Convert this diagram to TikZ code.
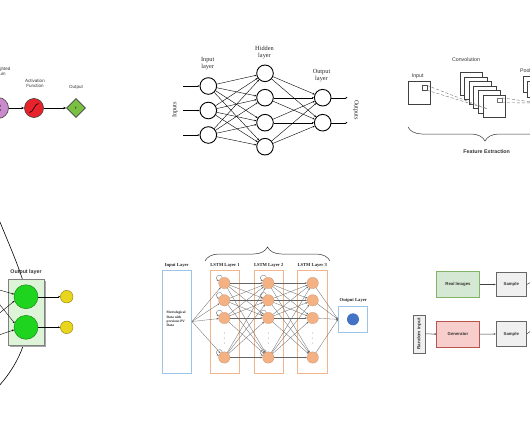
\documentclass[tikz,border=0pt]{standalone}
\usepackage{fontspec}
\setmainfont{Liberation Serif}
\setsansfont{Liberation Sans}
\usetikzlibrary{arrows.meta,decorations.pathreplacing,shapes.geometric,calc}
\definecolor{purpA}{HTML}{C98BCB}
\definecolor{redA}{HTML}{E8212B}
\definecolor{greenA}{HTML}{7AC143}
\definecolor{gcirc}{HTML}{1FD41F}
\definecolor{gcircd}{HTML}{137A13}
\definecolor{grect}{HTML}{DDF4D8}
\definecolor{yel}{HTML}{E8D51C}
\definecolor{yeld}{HTML}{8C7A00}
\definecolor{lorange}{HTML}{F4B183}
\definecolor{lorangeb}{HTML}{F2B48A}
\definecolor{lblue}{HTML}{9DC3E6}
\definecolor{dblue}{HTML}{4472C4}
\definecolor{dgf}{HTML}{D5E8D4}
\definecolor{dgd}{HTML}{82B366}
\definecolor{drf}{HTML}{F8CECC}
\definecolor{drd}{HTML}{B85450}
\definecolor{dxf}{HTML}{F0F0F0}
\definecolor{dxd}{HTML}{666666}
\begin{document}
\begin{tikzpicture}[x=1pt,y=-1pt,
  arr/.style={-{Stealth[length=3pt,width=2.4pt]}},
  sarr/.style={-{Stealth[length=2pt,width=1.7pt]}},
  nn/.style={circle,draw=black,line width=0.9pt,fill=white,minimum size=16.6pt,inner sep=0pt},
  serlab/.style={font=\fontsize{6.3}{7}\selectfont,align=center,text=black!85},
  p1lab/.style={font=\sffamily\fontsize{4.5}{5}\selectfont,align=center,text=black!80},
  p3lab/.style={font=\sffamily\fontsize{5.3}{6}\selectfont,text=black!80},
  lc/.style={circle,fill=lorange,draw=lorange!80!black,line width=0.2pt,minimum size=11.4pt,inner sep=0pt},
  lline/.style={draw=black!60,line width=0.3pt,sarr},
  lstmbox/.style={draw=lorangeb,line width=0.6pt,minimum width=29.5pt,minimum height=103pt,inner sep=0pt},
  lstmlab/.style={font=\bfseries\fontsize{4.6}{5}\selectfont,text=black!85},
  dio/.style={line width=0.5pt,inner sep=0pt,font=\sffamily\bfseries\fontsize{4.3}{5}\selectfont,text=black!80},
  sq/.style={draw=black!75,line width=0.5pt,fill=white}
]
\clip (0,0) rectangle (530,442);
\fill[white] (0,0) rectangle (530,442);

% ---------- Panel 1: perceptron ----------
\node[circle,draw=black!75,line width=0.6pt,fill=purpA,minimum size=21pt,inner sep=0pt] (sum) at (-2,108) {\fontsize{9}{9}\selectfont$\Sigma$};
\node[circle,draw=black!75,line width=0.6pt,fill=redA,minimum size=19pt,inner sep=0pt] (act) at (34,108) {};
\draw[line width=0.6pt] (29.5,112.5) .. controls (33.5,112.5) and (34.5,103.5) .. (38.5,103.5);
\node[diamond,draw=black!75,line width=0.6pt,fill=greenA,minimum size=19pt,inner sep=0pt] (yout) at (76,108) {\fontsize{3.5}{4}\selectfont Y};
\draw[arr,line width=0.5pt] (sum) -- (act);
\draw[arr,line width=0.5pt] (act) -- (yout);
\node[p1lab] (lsum) at (1,71) {Weighted\\Sum};
\node[p1lab] (lact) at (35,83) {Activation\\Function};
\node[p1lab] (lout) at (76,87.5) {Output};

% ---------- Panel 2: MLP ----------
\foreach \i/\y in {1/86,2/110.5,3/135} {
  \node[nn] (i\i) at (208.3,\y) {};
  \coordinate (in\i) at (183,\y);
}
\foreach \i/\y in {1/73.3,2/97.7,3/122.7,4/146.7} \node[nn] (h\i) at (265,\y) {};
\foreach \i/\y in {1/97.7,2/122.7} {
  \node[nn] (o\i) at (322.7,\y) {};
  \coordinate (out\i) at (347.5,\y);
}
\foreach \a in {1,2,3} \foreach \b in {1,...,4} \draw[sarr,line width=0.4pt] (i\a) -- (h\b);
\foreach \a in {1,...,4} \foreach \b in {1,2} \draw[sarr,line width=0.4pt] (h\a) -- (o\b);
\foreach \i in {1,2,3} \draw[sarr,line width=0.4pt] (in\i) -- (i\i);
\foreach \i in {1,2} \draw[sarr,line width=0.4pt] (o\i) -- (out\i);
\node[serlab] (li) at (207.7,64) {Input\\layer};
\node[serlab] (lh) at (264.5,52) {Hidden\\layer};
\node[serlab] (lo) at (321.5,76) {Output\\layer};
\node[serlab,rotate=90] (lin) at (175,110) {Inputs};
\node[serlab,rotate=-90] (lou) at (356,110) {Outputs};

% ---------- Panel 3: CNN ----------
\draw[sq] (408.3,81.7) rectangle (430.7,104);
\node[draw=black!70,line width=0.4pt,minimum size=4.4pt,inner sep=0pt] (isq) at (424.5,87.8) {};
\foreach \k in {0,...,5} \draw[sq] ({460+4.55*\k},{72.7+4.5*\k}) rectangle +(22.3,22.3);
\coordinate (cpt) at (487,108.7);
\draw[black!55,densely dashed,line width=0.4pt] (isq.north east) -- (cpt);
\draw[black!55,densely dashed,line width=0.4pt] (isq.south east) -- (cpt);
\node[draw=black!55,line width=0.4pt,minimum size=4.4pt,inner sep=0pt] (csq) at (499.5,100.3) {};
\draw[sq] (523.3,76.7) rectangle +(16,16);
\draw[sq] (527,81.7) rectangle +(16,16);
\coordinate (ppt) at (540,103);
\draw[black!55,densely dashed,line width=0.4pt] (csq.north east) -- (ppt);
\draw[black!55,densely dashed,line width=0.4pt] (csq.south east) -- (ppt);
\node[p3lab] (lin3) at (417.7,76.5) {Input};
\node[p3lab] (lconv) at (466,60) {Convolution};
\node[p3lab,anchor=west] (lpool) at (516.5,70.7) {Pooling};
\draw[decorate,decoration={brace,mirror,amplitude=14pt},line width=0.5pt,black!80] (408,127) -- (562,127);
\node[p3lab,font=\sffamily\bfseries\fontsize{5.3}{6}\selectfont] (lfe) at (486.7,151.7) {Feature Extraction};

% ---------- Panel 4: output layer ----------
\draw[line width=0.6pt] (0,222) .. controls (12,252) and (30,290) .. (29,315) .. controls (28,345) and (14,370) .. (-3,388);
\fill[black!35] (10.3,281.3) rectangle (46.3,347);
\node[draw=black!50,fill=grect,line width=0.4pt,minimum width=36pt,minimum height=65.7pt,inner sep=0pt] (olayer) at (26.3,312.2) {};
\node[circle,fill=gcirc,draw=gcircd,line width=0.4pt,minimum size=24pt,inner sep=0pt] (g1) at (26,296.7) {};
\node[circle,fill=gcirc,draw=gcircd,line width=0.4pt,minimum size=24pt,inner sep=0pt] (g2) at (26,327.3) {};
\node[circle,fill=yel,draw=yeld,line width=0.4pt,minimum size=12.6pt,inner sep=0pt] (y1) at (66.7,296.7) {};
\node[circle,fill=yel,draw=yeld,line width=0.4pt,minimum size=12.6pt,inner sep=0pt] (y2) at (66.7,327.3) {};
\draw[sarr,line width=0.4pt] (g1) -- (y1);
\draw[sarr,line width=0.4pt] (g2) -- (y2);
\coordinate (a1) at (-4,289);
\coordinate (a2) at (-4,316);
\coordinate (a3) at (-4,300);
\coordinate (a4) at (-4,336);
\draw[sarr,line width=0.4pt] (a1) -- (g1.168);
\draw[sarr,line width=0.4pt] (a2) -- (g1.200);
\draw[sarr,line width=0.4pt] (a3) -- (g2.160);
\draw[sarr,line width=0.4pt] (a4) -- (g2.192);
\node[font=\sffamily\bfseries\fontsize{5.3}{6}\selectfont,text=black!80] (lol) at (26,272.3) {Output layer};

% ---------- Panel 5: LSTM ----------
\node[draw=lblue,line width=0.6pt,minimum width=29.4pt,minimum height=103pt,inner sep=0pt] (inbox) at (177,321.5) {};
\node[font=\bfseries\fontsize{3.5}{4.2}\selectfont,align=left,inner sep=0pt,text=black!85,anchor=west] (intext) at (166.5,319) {Metrological\\Data with\\previous PV\\Data};
\node[lstmlab] (linl) at (176.7,265.7) {Input Layer};
\foreach \L/\x in {1/225,2/268.7,3/312.2} {
  \node[lstmbox] (B\L) at (\x,321.5) {};
  \node[lstmlab] (BL\L) at (\x,265.7) {LSTM Layer \L};
}
\foreach \L/\x in {1/224.3,2/268.3,3/312.7} {
  \foreach \r/\y in {1/283,2/300.3,3/318,4/357.5} \node[lc] (L\L-\r) at (\x,\y) {};
  \foreach \d in {333,338,343} \fill[black!60] (\x,\d) circle (0.45);
}
\foreach \L in {1,2} \foreach \r in {1,...,4}
  \draw[black!60,line width=0.3pt,sarr] (L\L-\r.110) .. controls +(-2,-6) and +(-6,-3) .. (L\L-\r.160);
\foreach \r in {1,...,4} \draw[lline] (inbox.east) -- (L1-\r);
\foreach \a in {1,...,4} \foreach \b in {1,...,4} {
  \draw[lline] (L1-\a) -- (L2-\b);
  \draw[lline] (L2-\a) -- (L3-\b);
}
\node[draw=lblue,line width=0.6pt,minimum width=29.4pt,minimum height=26.7pt,inner sep=0pt] (outbox) at (353,319.3) {};
\node[circle,fill=dblue,minimum size=12pt,inner sep=0pt] (oblue) at (353,319.3) {};
\foreach \r in {1,...,4} \draw[lline] (L3-\r) -- (outbox.west);
\node[lstmlab] (loutl) at (353.3,300.7) {Output Layer};
\draw[decorate,decoration={brace,amplitude=14pt},line width=0.5pt,black!80] (205,261) -- (330,261);

% ---------- Panel 6: GAN ----------
\node[dio,fill=dgf,draw=dgd,minimum width=42.6pt,minimum height=25.6pt] (real) at (458,284.5) {Real Images};
\node[dio,fill=dxf,draw=dxd,minimum width=30.7pt,minimum height=24.4pt] (s1) at (511.3,284.5) {Sample};
\node[dio,fill=drf,draw=drd,minimum width=42.6pt,minimum height=26.3pt] (gen) at (458,334.2) {Generator};
\node[dio,fill=dxf,draw=dxd,minimum width=30.7pt,minimum height=24.4pt] (s2) at (511.3,333.9) {Sample};
\node[dio,fill=dxf,draw=dxd,rotate=90,minimum width=37.7pt,minimum height=11.7pt,font=\sffamily\bfseries\fontsize{4.6}{5}\selectfont] (rin) at (419.2,333.9) {Random input};
\draw[sarr,line width=0.5pt,black!75] (real) -- (s1);
\draw[sarr,line width=0.5pt,black!75] (gen) -- (s2);
\draw[sarr,line width=0.5pt,black!75] (rin) -- (gen);
\coordinate (d1) at (536,279);
\coordinate (d2) at (536,327);
\draw[line width=0.5pt,black!70] (s1.east) -- (d1);
\draw[line width=0.5pt,black!70] (s2.east) -- (d2);
\end{tikzpicture}
\end{document}
